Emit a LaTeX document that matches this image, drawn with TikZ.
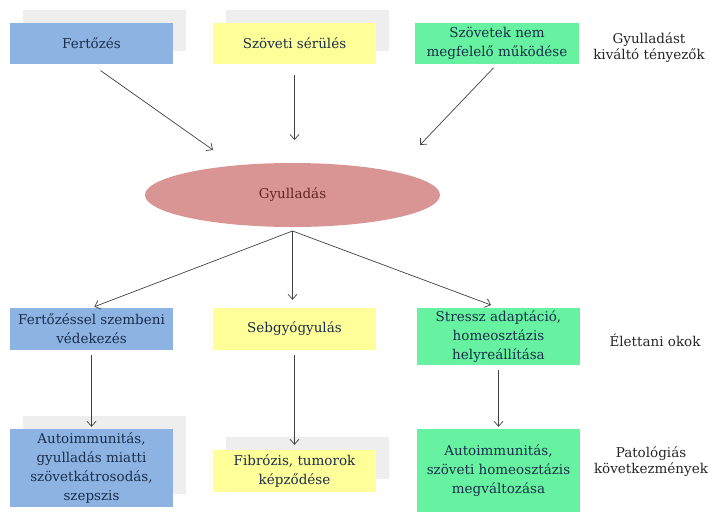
\documentclass[tikz,border=0pt]{standalone}
\usepackage{fontspec}
\setmainfont{DejaVu Serif}
\usetikzlibrary{shapes.geometric,shadows,arrows.meta}

\definecolor{boxblue}{HTML}{8DB3E2}
\definecolor{boxyellow}{HTML}{FFFF99}
\definecolor{boxgreen}{HTML}{66F2A0}
\definecolor{ovalred}{HTML}{D99594}
\definecolor{shadowgray}{HTML}{EEEEEE}
\definecolor{navytext}{HTML}{1B2E4B}
\definecolor{maroontext}{HTML}{632523}
\definecolor{arrowgray}{HTML}{404040}

\tikzset{
  >={Straight Barb[length=5pt, width=9pt]},
  factor/.style={shape=rectangle, minimum width=163pt, align=center, text=navytext, font=\fontsize{13.5}{19}\selectfont, inner sep=1pt},
  grayback/.style={copy shadow={shadow xshift=13pt, shadow yshift=13pt, fill=shadowgray, draw=none}},
  sidelabel/.style={align=center, text=black!85, font=\fontsize{13.5}{16}\selectfont},
  arr/.style={->, color=arrowgray, line width=0.7pt}
}

\begin{document}
\begin{tikzpicture}[x=1pt, y=-1pt]
    \useasboundingbox (0,0) rectangle (709,516);
    % kivalto tenyezok
    \node[factor, grayback, fill=boxblue, minimum height=41pt] at (91.5,43.5) (inf) {Fertőzés};
    \node[factor, grayback, fill=boxyellow, minimum height=41pt] at (294.5,43.5) (sei) {Szöveti sérülés};
    \node[factor, fill=boxgreen, minimum width=164pt, minimum height=41pt] at (497,43.5) (mkd) {Szövetek nem\\megfelelő működése};
    \node[sidelabel] at (649,48) (L1) {Gyulladást\\kiváltó tényezők};
    % gyulladas
    \node[shape=ellipse, fill=ovalred, minimum width=295pt, minimum height=64pt, text=maroontext, font=\fontsize{13.5}{19}\selectfont] at (292.5,195) (gy) {Gyulladás};
    % elettani okok
    \node[factor, fill=boxblue, minimum height=42pt] at (91.5,329) (ved) {Fertőzéssel szembeni\\védekezés};
    \node[factor, fill=boxyellow, minimum height=42pt] at (294.5,329) (seb) {Sebgyógyulás};
    \node[factor, fill=boxgreen, minimum height=57pt] at (498.5,336.5) (str) {Stressz adaptáció,\\homeosztázis\\helyreállítása};
    \node[sidelabel] at (655,340) (L2) {Élettani okok};
    % patologias kovetkezmenyek
    \node[factor, grayback, fill=boxblue, minimum height=78pt] at (91.5,468) (aut) {Autoimmunitás,\\gyulladás miatti\\szövetkátrosodás,\\szepszis};
    \node[factor, grayback, fill=boxyellow, minimum height=42pt] at (294.5,471) (fib) {Fibrózis, tumorok\\képződése};
    \node[factor, fill=boxgreen, minimum height=83pt] at (498.5,470.5) (hom) {Autoimmunitás,\\szöveti homeosztázis\\megváltozása};
    \node[sidelabel] at (651,462) (L3) {Patológiás\\következmények};
    % nyilak
    \coordinate (t1) at (213,150);
    \coordinate (t2) at (294.5,140);
    \coordinate (t3) at (420,145);
    \coordinate (fork) at (292.5,231);
    \path (inf.south) edge[arr, shorten <=11pt] (t1);
    \path (sei.south) edge[arr, shorten <=11pt] (t2);
    \path (mkd.south) edge[arr, shorten <=5pt] (t3);
    \path (fork) edge[arr, shorten >=3pt] (ved.north);
    \path (fork) edge[arr, shorten >=8pt] (fork |- seb.north);
    \path (fork) edge[arr, shorten >=8pt] (str.north);
    \path (ved.south) edge[arr, shorten <=5pt, shorten >=2pt] (aut.north);
    \path (seb.south) edge[arr, shorten <=5pt, shorten >=5pt] (fib.north);
    \path (str.south) edge[arr, shorten <=5pt, shorten >=2pt] (hom.north);
\end{tikzpicture}
\end{document}
